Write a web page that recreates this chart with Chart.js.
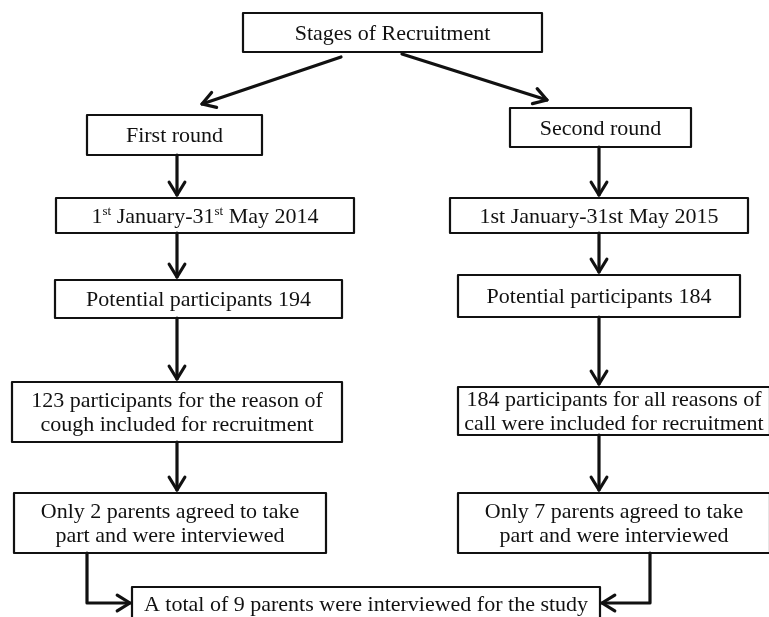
<!DOCTYPE html>
<html>
<head>
<meta charset="utf-8">
<script src="https://cdn.jsdelivr.net/npm/chart.js@4"></script>
<style>
  html, body { margin: 0; padding: 0; background: #fff; }
  #wrap { width: 769px; height: 617px; position: relative; }
</style>
</head>
<body>
<div id="wrap"><canvas id="flow"></canvas></div>
<script>
// Texte der Kästen (^{..} = hochgestellt)
const topLabel = ["Stages of Recruitment"];
const round1Labels = [
  ["First round"],
  ["1^{st} January-31^{st} May 2014"],
  ["Potential participants 194"],
  ["123 participants for the reason of", "cough included for recruitment"],
  ["Only 2 parents agreed to take", "part and were interviewed"]
];
const round2Labels = [
  ["Second round"],
  ["1st January-31st May 2015"],
  ["Potential participants 184"],
  ["184 participants for all reasons of", "call were included for recruitment"],
  ["Only 7 parents agreed to take", "part and were interviewed"]
];
const totalLabel = ["A total of 9 parents were interviewed for the study"];

// Layout (Datenkoordinaten: x 0..769, y 0..617 von oben)
const topBox = [243, 13, 542, 52];
const round1Boxes = [[87, 115, 262, 155], [56, 198, 354, 233], [55, 280, 342, 318], [12, 382, 342, 442], [14, 493, 326, 553]];
const round2Boxes = [[510, 108, 691, 147], [450, 198, 748, 233], [458, 275, 740, 317], [458, 387, 770, 435], [458, 493, 770, 553]];
const totalBox = [132, 587, 600, 630];
const round1ArrowX = 177, round2ArrowX = 599;
const joinLeftX = 87, joinRightX = 650, joinY = 603;

const flowPlugin = {
  id: 'flow',
  afterDraw(chart) {
    const ctx = chart.ctx, sx = chart.scales.x, sy = chart.scales.y;
    const X = v => sx.getPixelForValue(v), Y = v => sy.getPixelForValue(v);
    ctx.save();
    ctx.strokeStyle = '#111';
    ctx.fillStyle = '#111';
    ctx.lineCap = 'round';
    ctx.lineJoin = 'round';

    function box(b, lines) {
      ctx.lineWidth = 2.2;
      ctx.strokeRect(X(b[0]), Y(b[1]), X(b[2]) - X(b[0]), Y(b[3]) - Y(b[1]));
      const cx = (X(b[0]) + X(b[2])) / 2;
      const h = Y(b[3]) - Y(b[1]);
      const lh = 24;
      let y0 = Y(b[1]) + h / 2 - (lines.length - 1) * lh / 2;
      if (b[3] > 617) y0 = Y(b[1]) + 17;
      lines.forEach((ln, i) => drawText(ln, cx, y0 + i * lh));
    }

    function drawText(str, cx, cy) {
      const parts = [];
      const re = /\^\{([^}]*)\}/g;
      let last = 0, m;
      while ((m = re.exec(str))) {
        parts.push({ t: str.slice(last, m.index), sup: false });
        parts.push({ t: m[1], sup: true });
        last = re.lastIndex;
      }
      parts.push({ t: str.slice(last), sup: false });
      const normal = '22px "Liberation Serif", "Times New Roman", serif';
      const small = '13px "Liberation Serif", "Times New Roman", serif';
      let w = 0;
      parts.forEach(p => { ctx.font = p.sup ? small : normal; p.w = ctx.measureText(p.t).width; w += p.w; });
      let x = cx - w / 2;
      ctx.textBaseline = 'alphabetic';
      ctx.textAlign = 'left';
      parts.forEach(p => {
        ctx.font = p.sup ? small : normal;
        ctx.fillText(p.t, x, cy + 7 - (p.sup ? 8 : 0));
        x += p.w;
      });
    }

    function arrow(pts) {
      ctx.lineWidth = 3.2;
      ctx.beginPath();
      ctx.moveTo(X(pts[0][0]), Y(pts[0][1]));
      for (let i = 1; i < pts.length; i++) ctx.lineTo(X(pts[i][0]), Y(pts[i][1]));
      ctx.stroke();
      const a = pts[pts.length - 2], b = pts[pts.length - 1];
      const ang = Math.atan2(Y(b[1]) - Y(a[1]), X(b[0]) - X(a[0]));
      const L = 15, spread = 0.55;
      ctx.beginPath();
      ctx.moveTo(X(b[0]) - L * Math.cos(ang - spread), Y(b[1]) - L * Math.sin(ang - spread));
      ctx.lineTo(X(b[0]), Y(b[1]));
      ctx.lineTo(X(b[0]) - L * Math.cos(ang + spread), Y(b[1]) - L * Math.sin(ang + spread));
      ctx.stroke();
    }

    box(topBox, topLabel);
    round1Boxes.forEach((b, i) => box(b, round1Labels[i]));
    round2Boxes.forEach((b, i) => box(b, round2Labels[i]));
    box(totalBox, totalLabel);

    arrow([[341, 57], [202, 104]]);
    arrow([[402, 54], [547, 100]]);
    for (let i = 0; i < round1Boxes.length - 1; i++) {
      arrow([[round1ArrowX, round1Boxes[i][3]], [round1ArrowX, round1Boxes[i + 1][1] - 3]]);
    }
    for (let i = 0; i < round2Boxes.length - 1; i++) {
      arrow([[round2ArrowX, round2Boxes[i][3]], [round2ArrowX, round2Boxes[i + 1][1] - 3]]);
    }
    arrow([[joinLeftX, 553], [joinLeftX, joinY], [totalBox[0] - 2, joinY]]);
    arrow([[joinRightX, 553], [joinRightX, joinY], [totalBox[2] + 2, joinY]]);
    ctx.restore();
  }
};

// Mittelpunkte der Kästen als (unsichtbare) Punkte
const centers = [topBox, ...round1Boxes, ...round2Boxes, totalBox].map(b => ({ x: (b[0] + b[2]) / 2, y: (b[1] + b[3]) / 2 }));

new Chart(document.getElementById('flow'), {
  type: 'scatter',
  data: { datasets: [{ data: centers, pointRadius: 0 }] },
  options: {
    responsive: true,
    maintainAspectRatio: false,
    animation: false,
    layout: { padding: 0 },
    plugins: { legend: { display: false }, tooltip: { enabled: false } },
    scales: {
      x: { type: 'linear', min: 0, max: 769, display: false },
      y: { type: 'linear', min: 0, max: 617, reverse: true, display: false }
    }
  },
  plugins: [flowPlugin]
});
</script>
</body>
</html>
